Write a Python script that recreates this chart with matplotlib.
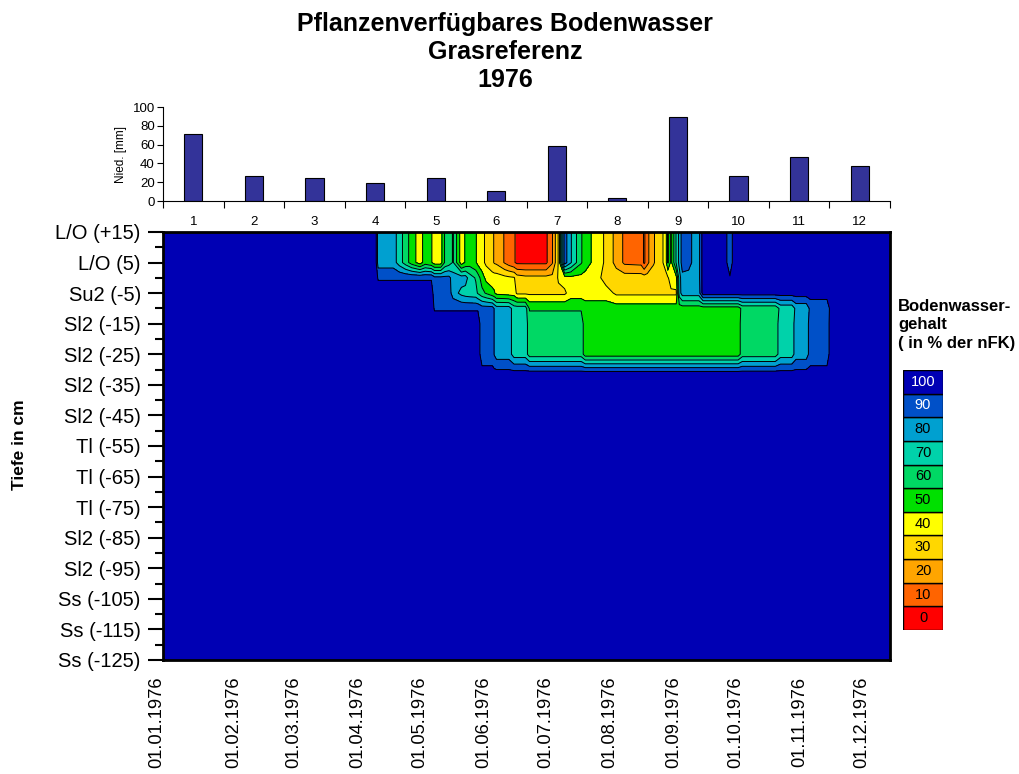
import matplotlib
matplotlib.use("Agg")
import matplotlib.pyplot as plt
import matplotlib.transforms as mtransforms
import numpy as np

plt.rcParams['font.family'] = ['Liberation Sans', 'DejaVu Sans']

# Niederschlag je Monat [mm]
months = np.arange(1, 13)
precip = [71, 27, 25, 19, 25, 10.5, 58.5, 3.5, 89.5, 27, 47, 37]

# Tiefenknoten [cm] und Zeitknoten [Tag im Jahr]
depths = [15, 5, 0, -5, -10, -15, -25, -31, -35, -125]
days = [-5, 99.5, 100.7, 108, 111, 114, 117, 121, 123.5, 126.5,
        128, 131, 133, 135, 137, 141, 143, 145, 148, 149,
        151, 153, 156, 157, 158, 162, 164, 166.5, 168, 172,
        174, 182, 185, 188, 191, 194, 199, 201, 203, 208,
        211, 216, 220, 228, 229.5, 231, 234, 238, 240, 241,
        242.5, 245, 246.5, 248, 251, 254, 256, 258, 268.5, 271,
        273, 275, 277, 293, 295.5, 301, 303, 308, 310, 318,
        320, 366]

# Bodenwassergehalt in % nFK je Tiefe
w_top = [100, 100, 80, 80, 70, 60, 50, 40, 50, 46,
         40, 40, 56, 60, 66, 40, 46, 50, 46, 42,
         38, 33, 27, 24, 23, 14, 10, 6, 3, 3,
         3, 3, 14, 36, 90, 76, 56, 50, 46, 40,
         32, 22, 13, 12, 3, 12, 24, 32, 42, 56,
         42, 66, 78, 90, 88, 82, 82, 100, 100, 88,
         100, 100, 100, 100, 100, 100, 100, 100, 100, 100,
         100, 100]
w_0 = [100, 100, 94, 94, 94, 94, 94, 94, 94, 94,
       88, 88, 88, 88, 80, 80, 80, 70, 64, 60,
       50, 42, 40, 40, 40, 38, 37, 36, 30, 28,
       28, 28, 28, 36, 40, 42, 42, 41, 40, 36,
       30, 30, 30, 30, 30, 30, 30, 30, 30, 34,
       40, 42, 70, 82, 82, 82, 82, 100, 100, 96,
       100, 100, 100, 100, 100, 100, 100, 100, 100, 100,
       100, 100]
w_m5 = [100, 100, 100, 100, 100, 100, 100, 100, 100, 100,
        90, 90, 90, 90, 80, 72, 70, 69, 68, 64,
        58, 54, 48, 46, 42, 41, 40, 40, 33, 33,
        33, 33, 33, 33, 33, 40, 40, 40, 40, 40,
        40, 33, 33, 33, 33, 33, 33, 33, 33, 33,
        33, 33, 70, 80, 80, 80, 80, 100, 100, 100,
        100, 100, 100, 100, 100, 100, 100, 100, 100, 100,
        100, 100]
w_m10 = [100, 100, 100, 100, 100, 100, 100, 100, 100, 100,
         94, 94, 94, 94, 94, 94, 94, 94, 94, 94,
         90, 90, 90, 84, 80, 80, 80, 70, 70, 70,
         54, 54, 54, 54, 54, 54, 54, 50, 50, 50,
         50, 50, 50, 50, 50, 50, 50, 50, 50, 50,
         50, 50, 50, 50, 50, 50, 50, 50, 50, 50,
         50, 50, 58, 58, 68, 68, 78, 78, 88, 88,
         100, 100]
w_sub = [100, 100, 100, 100, 100, 100, 100, 100, 100, 100,
         100, 100, 100, 100, 100, 100, 100, 100, 100, 100,
         90, 90, 90, 84, 80, 80, 80, 70, 70, 70,
         60, 60, 60, 60, 60, 60, 60, 50, 50, 50,
         50, 50, 50, 50, 50, 50, 50, 50, 50, 50,
         50, 50, 50, 50, 50, 50, 50, 50, 50, 50,
         50, 50, 60, 60, 70, 70, 80, 80, 90, 90,
         100, 100]
w_m31 = [100, 100, 100, 100, 100, 100, 100, 100, 100, 100,
         100, 100, 100, 100, 100, 100, 100, 100, 100, 100,
         98, 98, 98, 98, 98, 98, 98, 98, 98, 98,
         98, 98, 98, 98, 98, 98, 98, 98, 98, 98,
         98, 98, 98, 98, 98, 98, 98, 98, 98, 98,
         98, 98, 98, 98, 98, 98, 98, 98, 98, 98,
         98, 98, 98, 98, 98, 98, 98, 98, 98, 98,
         100, 100]
w_full = [100] * len(days)

depth_labels = ['L/O (+15)', 'L/O (5)', 'Su2 (-5)', 'Sl2 (-15)', 'Sl2 (-25)',
                'Sl2 (-35)', 'Sl2 (-45)', 'Tl (-55)', 'Tl (-65)', 'Tl (-75)',
                'Sl2 (-85)', 'Sl2 (-95)', 'Ss (-105)', 'Ss (-115)', 'Ss (-125)']
depth_ticks = [15, 5, -5, -15, -25, -35, -45, -55, -65, -75, -85, -95, -105, -115, -125]
month_days = [0, 31, 60, 91, 121, 152, 182, 213, 244, 274, 305, 335]
date_labels = ['01.%02d.1976' % m for m in range(1, 13)]

class_values = [0, 10, 20, 30, 40, 50, 60, 70, 80, 90, 100]
class_colors = ['#ff0000', '#ff6400', '#ffa500', '#ffd700', '#ffff00', '#00e000',
                '#00d864', '#00d2aa', '#00a0d0', '#0050c8', '#0000b4']

Z = np.array([w_top, w_top, w_0, w_m5, w_m10, w_sub, w_sub, w_m31, w_full, w_full])
levels = [v - 5 for v in class_values] + [105]

fig = plt.figure(figsize=(10.19, 7.74), dpi=100)

fig.text(0.4956, 1 - 52 / 774, 'Pflanzenverfügbares Bodenwasser\nGrasreferenz\n1976',
         ha='center', va='center', fontsize=18, fontweight='bold', linespacing=1.2)

# Niederschlagsbalken
axb = fig.add_axes([0.16, 0.7403, 0.7134, 0.1214])
axb.bar(months, precip, width=0.3, color='#333399', edgecolor='black', linewidth=0.8)
axb.set_xlim(0.5, 12.5)
axb.set_ylim(0, 100)
axb.set_yticks(range(0, 101, 20))
axb.set_xticks(months)
axb.set_xticks(np.arange(0.5, 13, 1), minor=True)
axb.tick_params(axis='x', which='major', length=0, pad=11, labelsize=9.5)
axb.tick_params(axis='x', which='minor', length=5, width=0.8)
axb.tick_params(axis='y', length=4, width=0.8, labelsize=9.5, pad=2)
axb.set_ylabel('Nied. [mm]', fontsize=8.5, labelpad=4)
for s in ['top', 'right']:
    axb.spines[s].set_visible(False)
for s in ['left', 'bottom']:
    axb.spines[s].set_linewidth(0.8)

# Tiefenprofil
ax = fig.add_axes([0.16, 0.1473, 0.7134, 0.553])
ax.contourf(days, depths, Z, levels=levels, colors=class_colors)
ax.contour(days, depths, Z, levels=levels[1:-1], colors='black', linewidths=0.7)
ax.set_xlim(-3.4, 348.5)
ax.set_ylim(-125, 15)
ax.set_yticks(depth_ticks)
ax.set_yticklabels(depth_labels)
ax.set_yticks(np.arange(10, -125, -10), minor=True)
ax.tick_params(axis='y', which='major', direction='out', length=11, width=1.5,
               labelsize=14.5, pad=5)
ax.tick_params(axis='y', which='minor', direction='out', length=6, width=1.5)
ax.set_xticks(month_days)
ax.set_xticklabels(date_labels, rotation=90)
ax.tick_params(axis='x', length=0, labelsize=13.2, pad=12)
# erstes Datum etwas nach links an den Achsenanfang
first = ax.get_xticklabels()[0]
first.set_transform(first.get_transform() +
                    mtransforms.ScaledTranslation(-0.13, 0, fig.dpi_scale_trans))
for s in ax.spines.values():
    s.set_linewidth(2)
fig.text(20 / 1019, 1 - 445 / 774, 'Tiefe in cm', rotation=90, ha='center', va='center',
         fontsize=12.5, fontweight='bold')

# Legende
fig.text(898 / 1019, 1 - 325 / 774, 'Bodenwasser-\ngehalt\n( in % der nFK)',
         ha='left', va='center', fontsize=12, fontweight='bold', linespacing=1.32)
axl = fig.add_axes([903 / 1019, 144 / 774, 40 / 1019, 260 / 774])
axl.barh(np.arange(len(class_values)) + 0.5, 1, height=1, color=class_colors,
         edgecolor='black', linewidth=1)
for i, v in enumerate(class_values):
    axl.text(0.5, i + 0.5, str(v), ha='center', va='center', fontsize=10.5,
             color='white' if v >= 90 else 'black')
axl.set_xlim(0, 1)
axl.set_ylim(0, len(class_values))
axl.axis('off')

fig.savefig('out.png', dpi=100)
